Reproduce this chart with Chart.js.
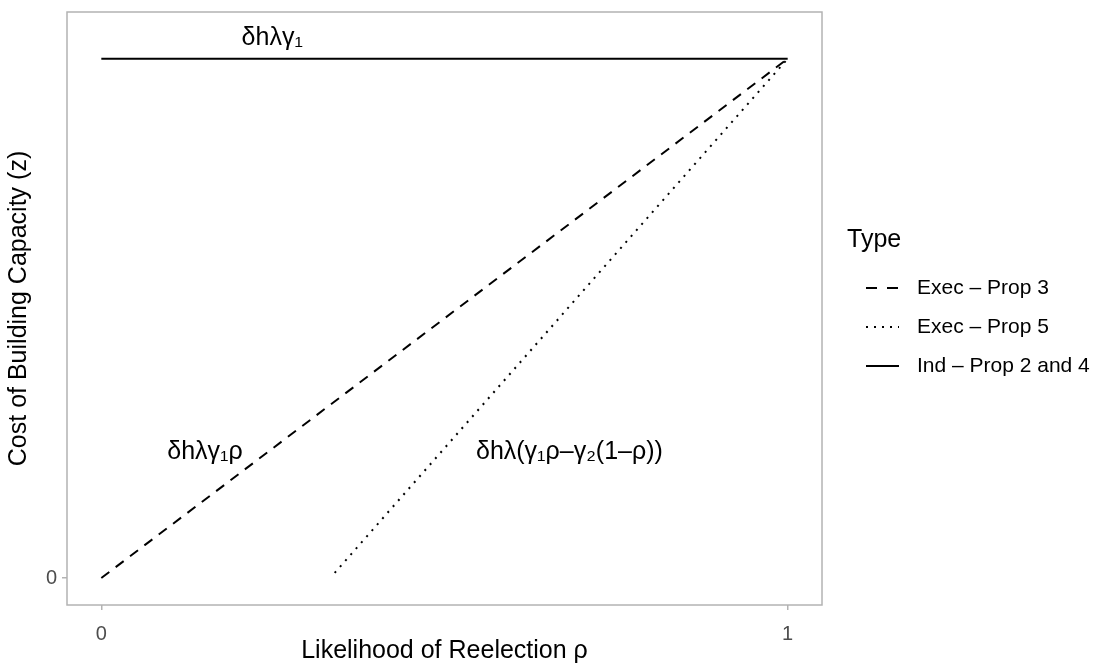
<!DOCTYPE html>
<html>
<head>
<meta charset="utf-8">
<script src="https://cdn.jsdelivr.net/npm/chart.js@4.4.1/dist/chart.umd.min.js"></script>
<style>
  html, body { margin: 0; padding: 0; background: #fff; }
  #wrap { width: 1098px; height: 670px; }
</style>
</head>
<body>
<div id="wrap"><canvas id="chart" width="1098" height="670"></canvas></div>
<script>
// data (x = rho, y = cost, scaled so the top line is 1)
const seriesNames = ['Exec \u2013 Prop 3', 'Exec \u2013 Prop 5', 'Ind \u2013 Prop 2 and 4'];
const prop3X = [0, 1];
const prop3Y = [0, 1];
const prop5X = [0.34, 1];
const prop5Y = [0.01, 1];
const indX = [0, 1];
const indY = [1, 1];

const xTicks = [0, 1];
const yTicks = [0];

// annotation texts and where they sit in data units
const noteTexts = ['\u03b4h\u03bb\u03b3\u2081', '\u03b4h\u03bb\u03b3\u2081\u03c1', '\u03b4h\u03bb(\u03b3\u2081\u03c1\u2013\u03b3\u2082(1\u2013\u03c1))'];
const noteX = [0.249, 0.151, 0.682];
const noteY = [1.04, 0.243, 0.243];

const FONT = 'Liberation Sans, Arial, sans-serif';

function toPoints(xs, ys) {
    return xs.map((x, i) => ({ x: x, y: ys[i] }));
}

const dashes = [[10, 8], [2, 6], []];

const datasets = [
    { label: seriesNames[0], data: toPoints(prop3X, prop3Y), borderDash: dashes[0] },
    { label: seriesNames[1], data: toPoints(prop5X, prop5Y), borderDash: dashes[1] },
    { label: seriesNames[2], data: toPoints(indX, indY), borderDash: dashes[2] }
].map(d => Object.assign(d, {
    borderColor: '#000',
    borderWidth: 2,
    pointRadius: 0,
    fill: false,
    tension: 0
}));

// panel border, annotations and the legend on the right
const extras = {
    id: 'extras',
    afterDraw(chart) {
        const ctx = chart.ctx;
        const a = chart.chartArea;
        const xs = chart.scales.x, ys = chart.scales.y;
        ctx.save();
        ctx.strokeStyle = '#b3b3b3';
        ctx.lineWidth = 1.5;
        ctx.strokeRect(a.left, a.top, a.right - a.left, a.bottom - a.top);

        ctx.fillStyle = '#000';
        ctx.font = '25px ' + FONT;
        ctx.textAlign = 'center';
        ctx.textBaseline = 'middle';
        noteTexts.forEach((t, i) => {
            ctx.fillText(t, xs.getPixelForValue(noteX[i]), ys.getPixelForValue(noteY[i]));
        });

        // legend
        ctx.textAlign = 'left';
        ctx.font = '25px ' + FONT;
        ctx.fillText('Type', 847, 240);
        ctx.font = '21px ' + FONT;
        const rowY = [288, 327, 366];
        seriesNames.forEach((name, i) => {
            ctx.beginPath();
            ctx.setLineDash(i === 0 ? [11, 10] : i === 1 ? [2, 6] : []);
            ctx.lineWidth = 2.2;
            ctx.strokeStyle = '#000';
            ctx.moveTo(866, rowY[i]);
            ctx.lineTo(899, rowY[i]);
            ctx.stroke();
            ctx.setLineDash([]);
            ctx.fillText(name, 917, rowY[i]);
        });
        ctx.restore();
    }
};

new Chart(document.getElementById('chart'), {
    type: 'line',
    data: { datasets: datasets },
    options: {
        responsive: false,
        animation: false,
        layout: { padding: { top: 12, right: 276, left: 0, bottom: 0 } },
        plugins: {
            legend: { display: false },
            tooltip: { enabled: false }
        },
        scales: {
            x: {
                type: 'linear',
                min: -0.05,
                max: 1.05,
                afterBuildTicks: s => { s.ticks = xTicks.map(v => ({ value: v })); },
                afterFit: s => { s.height = 65; s.paddingLeft = 0; s.paddingRight = 0; },
                grid: { drawOnChartArea: false, tickLength: 5, color: '#b3b3b3', lineWidth: 1.5 },
                border: { display: false },
                ticks: { color: '#4d4d4d', font: { family: FONT, size: 20 }, padding: 12 },
                title: { display: true, text: 'Likelihood of Reelection \u03c1', color: '#000', font: { family: FONT, size: 25 }, padding: { top: 0 } }
            },
            y: {
                type: 'linear',
                min: -0.052,
                max: 1.09,
                afterBuildTicks: s => { s.ticks = yTicks.map(v => ({ value: v })); },
                afterFit: s => { s.width = 67; s.paddingTop = 0; s.paddingBottom = 0; },
                grid: { drawOnChartArea: false, tickLength: 5, color: '#b3b3b3', lineWidth: 1.5 },
                border: { display: false },
                ticks: { color: '#4d4d4d', font: { family: FONT, size: 20 }, padding: 5 },
                title: { display: true, text: 'Cost of Building Capacity (z)', color: '#000', font: { family: FONT, size: 25 }, padding: { bottom: 4 } }
            }
        }
    },
    plugins: [extras]
});
</script>
</body>
</html>
